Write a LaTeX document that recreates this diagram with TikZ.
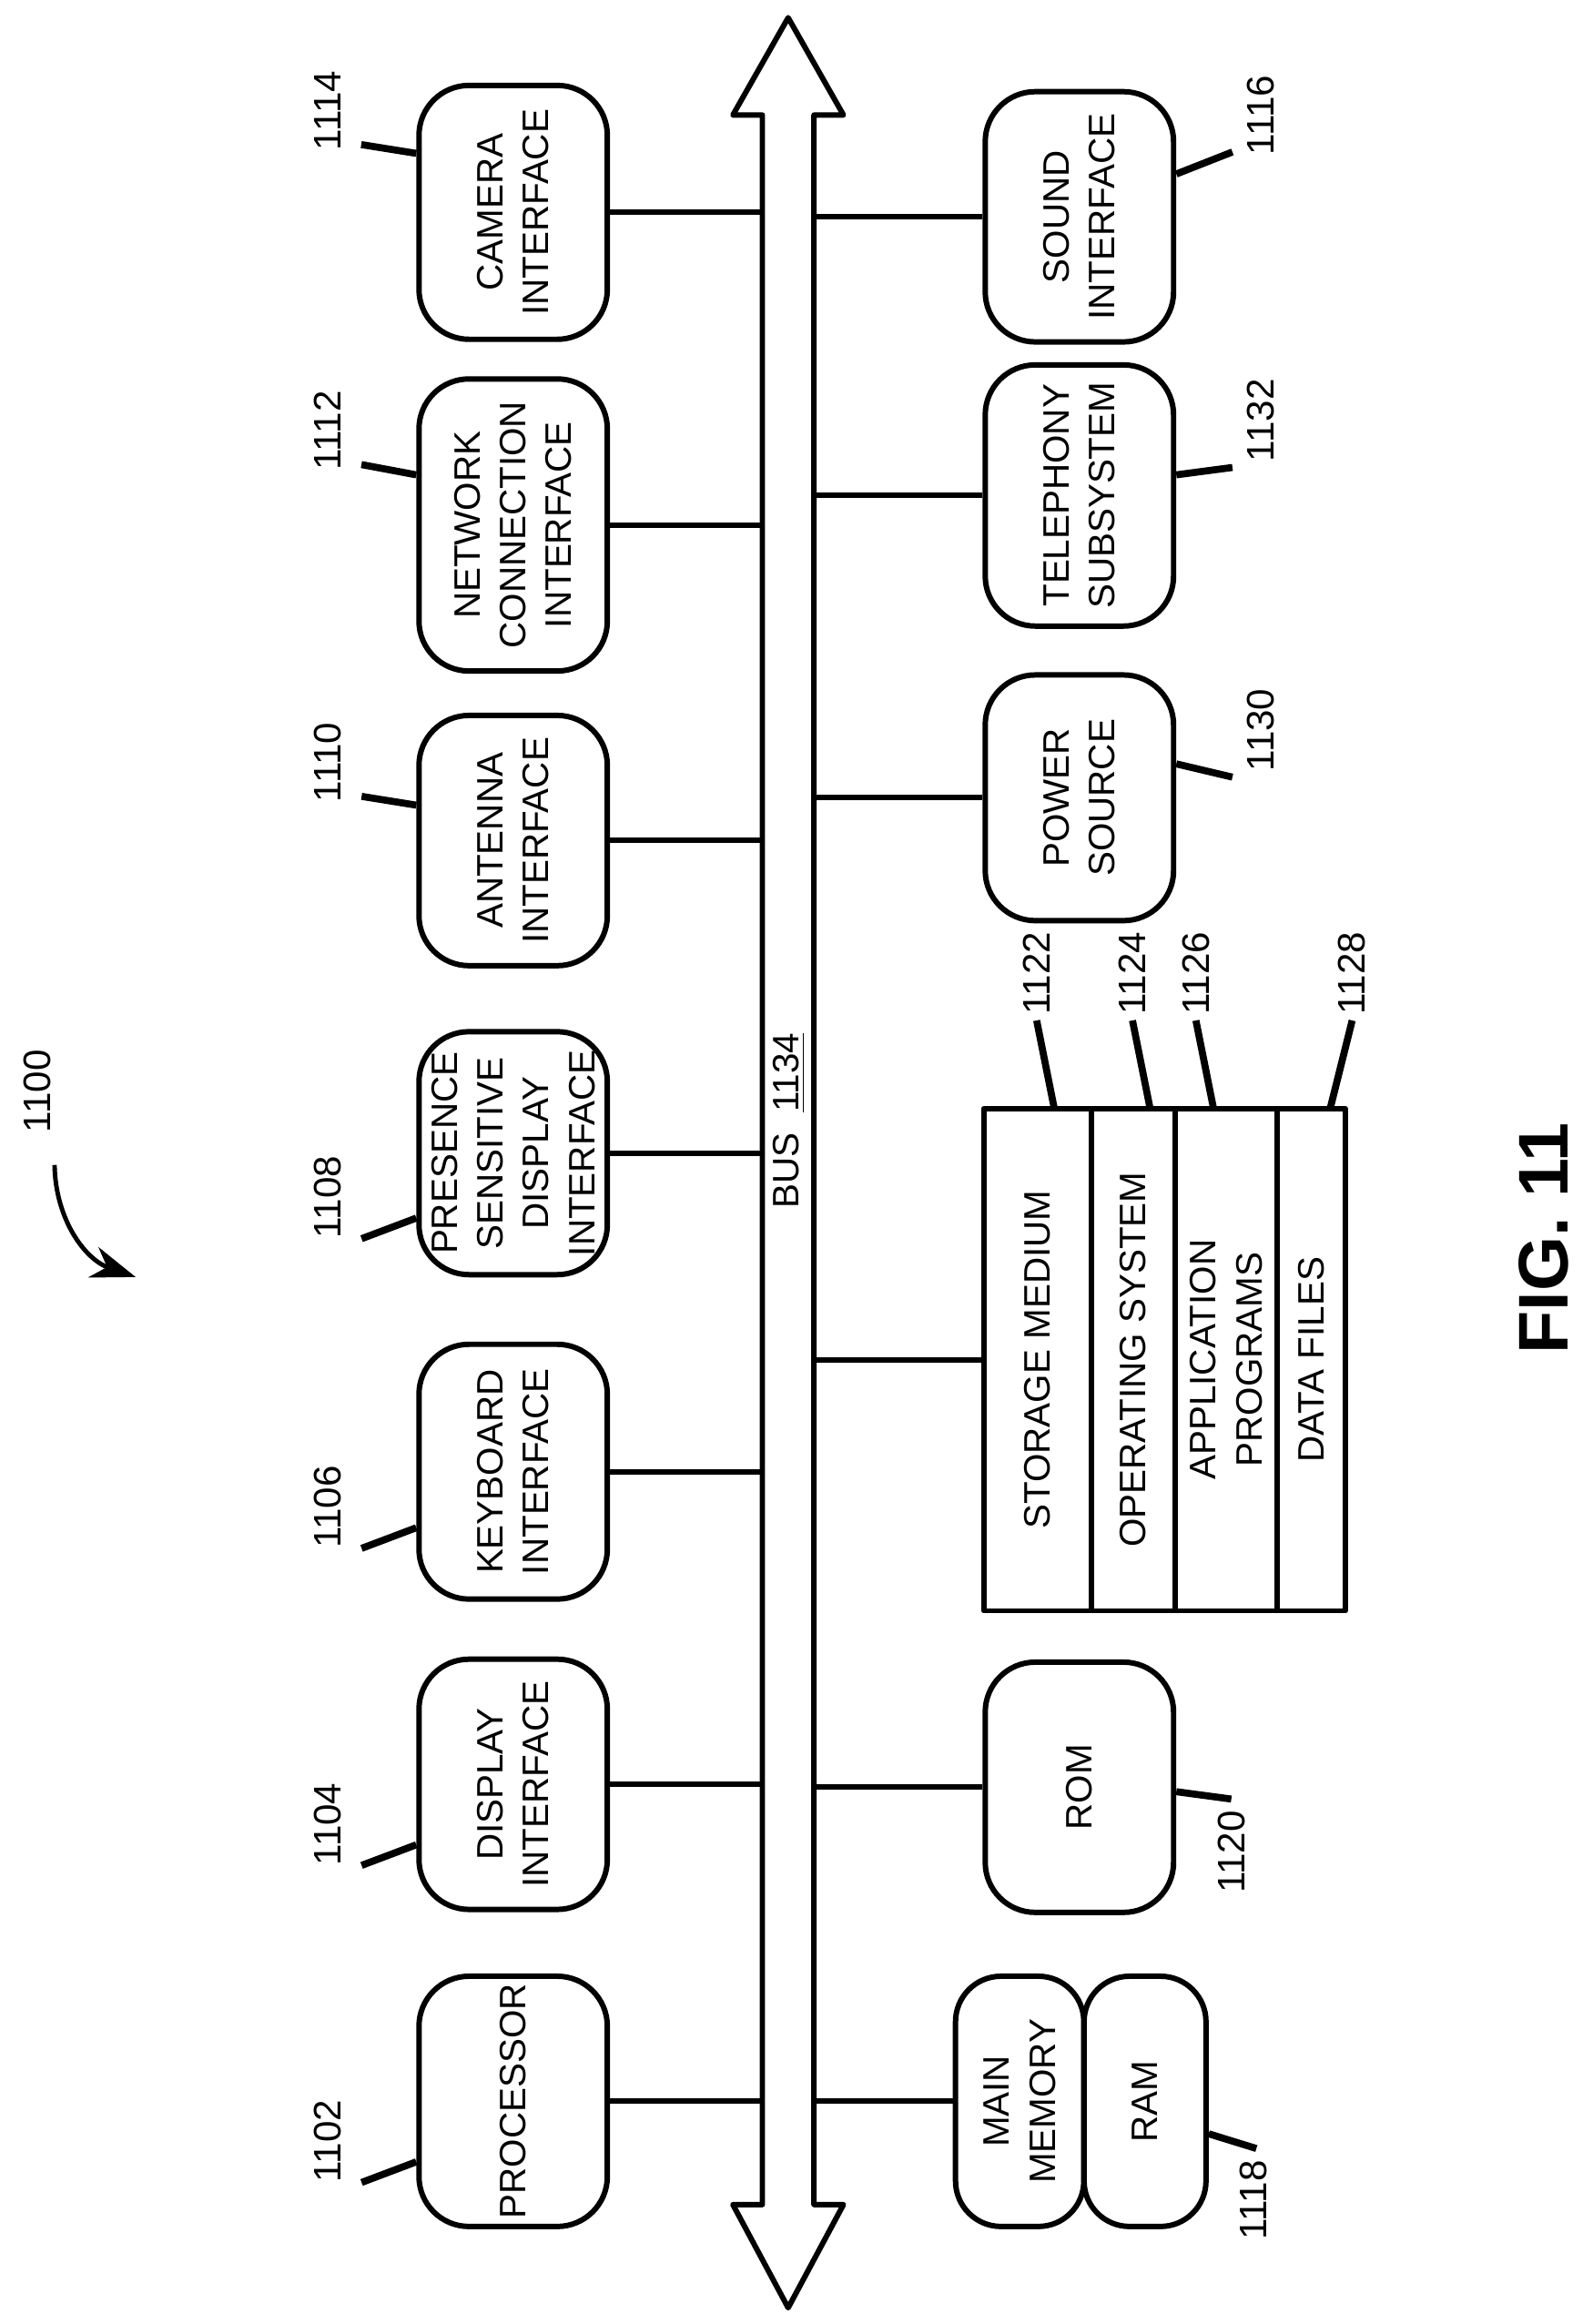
\documentclass[tikz,border=0pt]{standalone}
\usepackage{fontspec}
\setmainfont{Liberation Sans}
\usetikzlibrary{arrows.meta,calc}
\begin{document}
\begin{tikzpicture}[x=0.0162cm,y=-0.0162cm,line width=1.7pt,line join=round,
	font=\fontsize{11.5}{14.3}\selectfont]
	\tikzset{box/.style={draw,rounded corners=0.55cm,rotate=90,align=center,minimum height=2.07cm,inner sep=2pt}};
	\tikzset{stack/.style={draw,rotate=90,align=center,minimum width=5.52cm,inner sep=1pt}};
	\tikzset{num/.style={rotate=90,inner sep=1pt,font=\fontsize{12}{14}\selectfont}};
	\tikzset{lead/.style={line width=2.2pt}};
	\useasboundingbox (0,0) rectangle (1080,1576);

	% bus
	\draw[fill=white] (517,78) -- (497,78) -- (534.5,12) -- (572,78) -- (552,78)
		-- (552,1495) -- (572,1495) -- (534.5,1565) -- (497,1495) -- (517,1495) -- cycle;
	\coordinate (busL) at (517,0);
	\coordinate (busR) at (552,0);
	\node[rotate=90] (bus) at (535,760) {BUS\ \ \underline{1134}};

	% left column
	\node[box,minimum width=2.79cm] (cam) at (348,144) {CAMERA\\INTERFACE};
	\node[box,minimum width=3.21cm] (net) at (348,356) {NETWORK\\CONNECTION\\INTERFACE};
	\node[box,minimum width=2.75cm] (ant) at (348,570) {ANTENNA\\INTERFACE};
	\node[box,minimum width=2.67cm] (pres) at (348,782) {PRESENCE\\SENSITIVE\\DISPLAY\\INTERFACE};
	\node[box,minimum width=2.80cm] (key) at (348,998) {KEYBOARD\\INTERFACE};
	\node[box,minimum width=2.75cm] (disp) at (348,1210) {DISPLAY\\INTERFACE};
	\node[box,minimum width=2.75cm] (proc) at (348,1425) {PROCESSOR};
	\foreach \n in {cam,net,ant,pres,key,disp,proc}
		\draw (\n.south) -- (\n.south -| busL);

	% right column
	\node[box,minimum width=2.75cm] (snd) at (732,147) {SOUND\\INTERFACE};
	\node[box,minimum width=2.87cm] (tel) at (732,336) {TELEPHONY\\SUBSYSTEM};
	\node[box,minimum width=2.70cm] (pow) at (732,541) {POWER\\SOURCE};
	\node[box,minimum width=2.75cm] (rom) at (732,1212) {ROM};
	\node[stack,minimum height=1.18cm] (sto) at (703.5,922) {STORAGE MEDIUM};
	\node[stack,minimum height=0.92cm] (os) at (768.5,922) {OPERATING SYSTEM};
	\node[stack,minimum height=1.12cm] (app) at (831.5,922) {APPLICATION\\PROGRAMS};
	\node[stack,minimum height=0.75cm] (dat) at (889,922) {DATA FILES};
	\node[box,minimum width=2.75cm,minimum height=1.41cm,rounded corners=0.5cm] (mem) at (691.5,1425) {MAIN\\MEMORY};
	\node[box,minimum width=2.75cm,minimum height=1.34cm,rounded corners=0.5cm] (ram) at (776.5,1425) {RAM};
	\foreach \n in {snd,tel,pow,rom,mem}
		\draw (\n.north -| busR) -- (\n.north);
	\draw (sto.north -| busR) -- (sto.north);

	% reference numerals
	\node[num] (n1114) at (222,75) {1114};
	\node[num] (n1112) at (222,292) {1112};
	\node[num] (n1110) at (222,517) {1110};
	\node[num] (n1108) at (222,812) {1108};
	\node[num] (n1106) at (222,1022) {1106};
	\node[num] (n1104) at (222,1237) {1104};
	\node[num] (n1102) at (222,1452) {1102};
	\draw[lead] ($(n1114.south west)+(10,-8)$) -- (cam.north |- 0,104);
	\draw[lead] ($(n1112.south west)+(10,-8)$) -- (net.north |- 0,322);
	\draw[lead] ($(n1110.south west)+(10,-8)$) -- (ant.north |- 0,546);
	\draw[lead] ($(n1108.south west)+(10,-4)$) -- (pres.north |- 0,826);
	\draw[lead] ($(n1106.south west)+(10,-4)$) -- (key.north |- 0,1036);
	\draw[lead] ($(n1104.south west)+(10,-4)$) -- (disp.north |- 0,1251);
	\draw[lead] ($(n1102.south west)+(10,-4)$) -- (proc.north |- 0,1466);

	\node[num] (n1116) at (855,78) {1116};
	\node[num] (n1132) at (855,285) {1132};
	\node[num] (n1130) at (855,495) {1130};
	\node[num] (n1120) at (835,1256) {1120};
	\node[num] (n1118) at (850,1492) {1118};
	\draw[lead] (snd.south |- 0,118) -- ($(n1116.north west)+(-6,-6)$);
	\draw[lead] (tel.south |- 0,322) -- ($(n1132.north west)+(-6,0)$);
	\draw[lead] (pow.south |- 0,518) -- ($(n1130.north west)+(-6,0)$);
	\draw[lead] (rom.south |- 0,1215) -- ($(n1120.east)+(0,-4)$);
	\draw[lead] (ram.south |- 0,1447) -- ($(n1118.east)+(2,-4)$);

	\node[num] (n1122) at (703,660) {1122};
	\node[num] (n1124) at (768,660) {1124};
	\node[num] (n1126) at (811,660) {1126};
	\node[num] (n1128) at (917,660) {1128};
	\draw[lead] (n1122.west) -- (715,752);
	\draw[lead] (n1124.west) -- (780,752);
	\draw[lead] (n1126.west) -- (823,752);
	\draw[lead] (n1128.west) -- (902,752);

	% figure numeral
	\node[num] (n1100) at (25,740) {1100};
	\draw[line width=1.4pt,-{Stealth[length=14pt,width=10pt]}] (n1100.west) ++(12,18) to[bend right=35] (92,866);
	\node[rotate=90,font=\bfseries\fontsize{22}{26}\selectfont] (fig) at (1047,840) {FIG. 11};
\end{tikzpicture}
\end{document}
